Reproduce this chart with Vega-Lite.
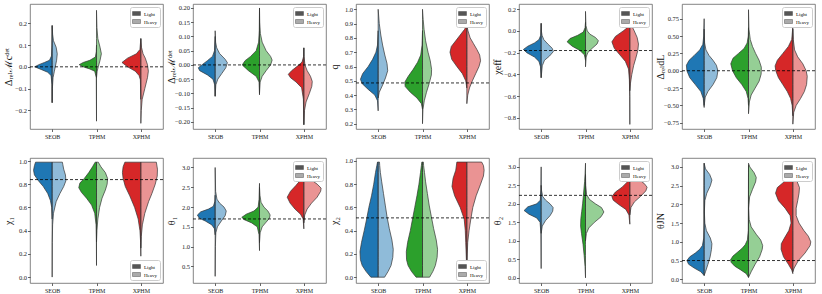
{
"$schema":"https://vega.github.io/schema/vega-lite/v6.json",
"padding":{"left":2,"top":3,"right":0,"bottom":0},
"columns":5,
"spacing":{"row":17,"column":1},
"data":{"values":[
{"p":1,"m":"SEOB","s":"Light","y":-0.165,"w":0},{"p":1,"m":"SEOB","s":"Light","y":-0.08,"w":-0.01},{"p":1,"m":"SEOB","s":"Light","y":-0.04,"w":-0.05},{"p":1,"m":"SEOB","s":"Light","y":-0.025,"w":-0.2},{"p":1,"m":"SEOB","s":"Light","y":-0.012,"w":-0.5},{"p":1,"m":"SEOB","s":"Light","y":0.0,"w":-0.79},{"p":1,"m":"SEOB","s":"Light","y":0.01,"w":-0.6},{"p":1,"m":"SEOB","s":"Light","y":0.02,"w":-0.35},{"p":1,"m":"SEOB","s":"Light","y":0.03,"w":-0.12},{"p":1,"m":"SEOB","s":"Light","y":0.05,"w":-0.03},{"p":1,"m":"SEOB","s":"Light","y":0.1,"w":-0.01},{"p":1,"m":"SEOB","s":"Light","y":0.19,"w":0},
{"p":1,"m":"SEOB","s":"Heavy","y":-0.165,"w":0},{"p":1,"m":"SEOB","s":"Heavy","y":-0.1,"w":0.01},{"p":1,"m":"SEOB","s":"Heavy","y":-0.05,"w":0.04},{"p":1,"m":"SEOB","s":"Heavy","y":-0.02,"w":0.1},{"p":1,"m":"SEOB","s":"Heavy","y":0.0,"w":0.14},{"p":1,"m":"SEOB","s":"Heavy","y":0.03,"w":0.2},{"p":1,"m":"SEOB","s":"Heavy","y":0.06,"w":0.23},{"p":1,"m":"SEOB","s":"Heavy","y":0.09,"w":0.18},{"p":1,"m":"SEOB","s":"Heavy","y":0.12,"w":0.06},{"p":1,"m":"SEOB","s":"Heavy","y":0.15,"w":0.02},{"p":1,"m":"SEOB","s":"Heavy","y":0.19,"w":0},
{"p":1,"m":"TPHM","s":"Light","y":-0.25,"w":0},{"p":1,"m":"TPHM","s":"Light","y":-0.05,"w":-0.01},{"p":1,"m":"TPHM","s":"Light","y":-0.02,"w":-0.08},{"p":1,"m":"TPHM","s":"Light","y":-0.01,"w":-0.3},{"p":1,"m":"TPHM","s":"Light","y":0.0,"w":-0.6},{"p":1,"m":"TPHM","s":"Light","y":0.01,"w":-0.78},{"p":1,"m":"TPHM","s":"Light","y":0.02,"w":-0.6},{"p":1,"m":"TPHM","s":"Light","y":0.03,"w":-0.3},{"p":1,"m":"TPHM","s":"Light","y":0.045,"w":-0.05},{"p":1,"m":"TPHM","s":"Light","y":0.07,"w":-0.01},{"p":1,"m":"TPHM","s":"Light","y":0.1,"w":0},
{"p":1,"m":"TPHM","s":"Heavy","y":-0.05,"w":0},{"p":1,"m":"TPHM","s":"Heavy","y":-0.02,"w":0.03},{"p":1,"m":"TPHM","s":"Heavy","y":0.0,"w":0.08},{"p":1,"m":"TPHM","s":"Heavy","y":0.03,"w":0.16},{"p":1,"m":"TPHM","s":"Heavy","y":0.06,"w":0.22},{"p":1,"m":"TPHM","s":"Heavy","y":0.09,"w":0.16},{"p":1,"m":"TPHM","s":"Heavy","y":0.13,"w":0.06},{"p":1,"m":"TPHM","s":"Heavy","y":0.18,"w":0.02},{"p":1,"m":"TPHM","s":"Heavy","y":0.26,"w":0},
{"p":1,"m":"XPHM","s":"Light","y":-0.15,"w":0},{"p":1,"m":"XPHM","s":"Light","y":-0.06,"w":-0.02},{"p":1,"m":"XPHM","s":"Light","y":-0.04,"w":-0.08},{"p":1,"m":"XPHM","s":"Light","y":-0.02,"w":-0.25},{"p":1,"m":"XPHM","s":"Light","y":0.0,"w":-0.6},{"p":1,"m":"XPHM","s":"Light","y":0.02,"w":-0.85},{"p":1,"m":"XPHM","s":"Light","y":0.04,"w":-0.6},{"p":1,"m":"XPHM","s":"Light","y":0.06,"w":-0.2},{"p":1,"m":"XPHM","s":"Light","y":0.08,"w":-0.04},{"p":1,"m":"XPHM","s":"Light","y":0.13,"w":0},
{"p":1,"m":"XPHM","s":"Heavy","y":-0.26,"w":0},{"p":1,"m":"XPHM","s":"Heavy","y":-0.2,"w":0.02},{"p":1,"m":"XPHM","s":"Heavy","y":-0.15,"w":0.06},{"p":1,"m":"XPHM","s":"Heavy","y":-0.1,"w":0.18},{"p":1,"m":"XPHM","s":"Heavy","y":-0.05,"w":0.3},{"p":1,"m":"XPHM","s":"Heavy","y":-0.02,"w":0.34},{"p":1,"m":"XPHM","s":"Heavy","y":0.01,"w":0.3},{"p":1,"m":"XPHM","s":"Heavy","y":0.04,"w":0.2},{"p":1,"m":"XPHM","s":"Heavy","y":0.06,"w":0.1},{"p":1,"m":"XPHM","s":"Heavy","y":0.09,"w":0.03},{"p":1,"m":"XPHM","s":"Heavy","y":0.13,"w":0},

{"p":2,"m":"SEOB","s":"Light","y":-0.11,"w":0},{"p":2,"m":"SEOB","s":"Light","y":-0.07,"w":-0.02},{"p":2,"m":"SEOB","s":"Light","y":-0.05,"w":-0.1},{"p":2,"m":"SEOB","s":"Light","y":-0.035,"w":-0.35},{"p":2,"m":"SEOB","s":"Light","y":-0.02,"w":-0.7},{"p":2,"m":"SEOB","s":"Light","y":-0.01,"w":-0.76},{"p":2,"m":"SEOB","s":"Light","y":0.0,"w":-0.6},{"p":2,"m":"SEOB","s":"Light","y":0.015,"w":-0.35},{"p":2,"m":"SEOB","s":"Light","y":0.03,"w":-0.12},{"p":2,"m":"SEOB","s":"Light","y":0.05,"w":-0.03},{"p":2,"m":"SEOB","s":"Light","y":0.1,"w":0},
{"p":2,"m":"SEOB","s":"Heavy","y":-0.11,"w":0},{"p":2,"m":"SEOB","s":"Heavy","y":-0.07,"w":0.03},{"p":2,"m":"SEOB","s":"Heavy","y":-0.05,"w":0.12},{"p":2,"m":"SEOB","s":"Heavy","y":-0.03,"w":0.3},{"p":2,"m":"SEOB","s":"Heavy","y":-0.01,"w":0.48},{"p":2,"m":"SEOB","s":"Heavy","y":0.008,"w":0.55},{"p":2,"m":"SEOB","s":"Heavy","y":0.02,"w":0.45},{"p":2,"m":"SEOB","s":"Heavy","y":0.04,"w":0.2},{"p":2,"m":"SEOB","s":"Heavy","y":0.06,"w":0.07},{"p":2,"m":"SEOB","s":"Heavy","y":0.08,"w":0.02},{"p":2,"m":"SEOB","s":"Heavy","y":0.12,"w":0},
{"p":2,"m":"TPHM","s":"Light","y":-0.105,"w":0},{"p":2,"m":"TPHM","s":"Light","y":-0.06,"w":-0.02},{"p":2,"m":"TPHM","s":"Light","y":-0.04,"w":-0.15},{"p":2,"m":"TPHM","s":"Light","y":-0.02,"w":-0.5},{"p":2,"m":"TPHM","s":"Light","y":0.0,"w":-0.78},{"p":2,"m":"TPHM","s":"Light","y":0.015,"w":-0.65},{"p":2,"m":"TPHM","s":"Light","y":0.03,"w":-0.4},{"p":2,"m":"TPHM","s":"Light","y":0.05,"w":-0.15},{"p":2,"m":"TPHM","s":"Light","y":0.08,"w":-0.04},{"p":2,"m":"TPHM","s":"Light","y":0.12,"w":-0.01},{"p":2,"m":"TPHM","s":"Light","y":0.2,"w":0},
{"p":2,"m":"TPHM","s":"Heavy","y":-0.1,"w":0},{"p":2,"m":"TPHM","s":"Heavy","y":-0.06,"w":0.03},{"p":2,"m":"TPHM","s":"Heavy","y":-0.04,"w":0.12},{"p":2,"m":"TPHM","s":"Heavy","y":-0.02,"w":0.3},{"p":2,"m":"TPHM","s":"Heavy","y":0.0,"w":0.5},{"p":2,"m":"TPHM","s":"Heavy","y":0.017,"w":0.57},{"p":2,"m":"TPHM","s":"Heavy","y":0.03,"w":0.5},{"p":2,"m":"TPHM","s":"Heavy","y":0.05,"w":0.3},{"p":2,"m":"TPHM","s":"Heavy","y":0.08,"w":0.12},{"p":2,"m":"TPHM","s":"Heavy","y":0.11,"w":0.04},{"p":2,"m":"TPHM","s":"Heavy","y":0.15,"w":0.01},{"p":2,"m":"TPHM","s":"Heavy","y":0.2,"w":0},
{"p":2,"m":"XPHM","s":"Light","y":-0.21,"w":0},{"p":2,"m":"XPHM","s":"Light","y":-0.12,"w":-0.02},{"p":2,"m":"XPHM","s":"Light","y":-0.08,"w":-0.1},{"p":2,"m":"XPHM","s":"Light","y":-0.06,"w":-0.35},{"p":2,"m":"XPHM","s":"Light","y":-0.045,"w":-0.6},{"p":2,"m":"XPHM","s":"Light","y":-0.033,"w":-0.7},{"p":2,"m":"XPHM","s":"Light","y":-0.02,"w":-0.55},{"p":2,"m":"XPHM","s":"Light","y":-0.005,"w":-0.3},{"p":2,"m":"XPHM","s":"Light","y":0.01,"w":-0.08},{"p":2,"m":"XPHM","s":"Light","y":0.03,"w":-0.01},{"p":2,"m":"XPHM","s":"Light","y":0.06,"w":0},
{"p":2,"m":"XPHM","s":"Heavy","y":-0.21,"w":0},{"p":2,"m":"XPHM","s":"Heavy","y":-0.16,"w":0.03},{"p":2,"m":"XPHM","s":"Heavy","y":-0.13,"w":0.1},{"p":2,"m":"XPHM","s":"Heavy","y":-0.1,"w":0.25},{"p":2,"m":"XPHM","s":"Heavy","y":-0.075,"w":0.36},{"p":2,"m":"XPHM","s":"Heavy","y":-0.058,"w":0.38},{"p":2,"m":"XPHM","s":"Heavy","y":-0.04,"w":0.3},{"p":2,"m":"XPHM","s":"Heavy","y":-0.02,"w":0.15},{"p":2,"m":"XPHM","s":"Heavy","y":0.0,"w":0.05},{"p":2,"m":"XPHM","s":"Heavy","y":0.03,"w":0.01},{"p":2,"m":"XPHM","s":"Heavy","y":0.06,"w":0},

{"p":3,"m":"SEOB","s":"Light","y":0.29,"w":0},{"p":3,"m":"SEOB","s":"Light","y":0.36,"w":-0.03},{"p":3,"m":"SEOB","s":"Light","y":0.4,"w":-0.15},{"p":3,"m":"SEOB","s":"Light","y":0.44,"w":-0.45},{"p":3,"m":"SEOB","s":"Light","y":0.48,"w":-0.72},{"p":3,"m":"SEOB","s":"Light","y":0.51,"w":-0.8},{"p":3,"m":"SEOB","s":"Light","y":0.55,"w":-0.7},{"p":3,"m":"SEOB","s":"Light","y":0.6,"w":-0.45},{"p":3,"m":"SEOB","s":"Light","y":0.65,"w":-0.25},{"p":3,"m":"SEOB","s":"Light","y":0.7,"w":-0.1},{"p":3,"m":"SEOB","s":"Light","y":0.75,"w":-0.03},{"p":3,"m":"SEOB","s":"Light","y":0.85,"w":0},
{"p":3,"m":"SEOB","s":"Heavy","y":0.38,"w":0},{"p":3,"m":"SEOB","s":"Heavy","y":0.42,"w":0.05},{"p":3,"m":"SEOB","s":"Heavy","y":0.47,"w":0.2},{"p":3,"m":"SEOB","s":"Heavy","y":0.52,"w":0.33},{"p":3,"m":"SEOB","s":"Heavy","y":0.57,"w":0.43},{"p":3,"m":"SEOB","s":"Heavy","y":0.62,"w":0.4},{"p":3,"m":"SEOB","s":"Heavy","y":0.68,"w":0.3},{"p":3,"m":"SEOB","s":"Heavy","y":0.75,"w":0.2},{"p":3,"m":"SEOB","s":"Heavy","y":0.82,"w":0.12},{"p":3,"m":"SEOB","s":"Heavy","y":0.9,"w":0.05},{"p":3,"m":"SEOB","s":"Heavy","y":1.0,"w":0},
{"p":3,"m":"TPHM","s":"Light","y":0.3,"w":0},{"p":3,"m":"TPHM","s":"Light","y":0.34,"w":-0.05},{"p":3,"m":"TPHM","s":"Light","y":0.38,"w":-0.25},{"p":3,"m":"TPHM","s":"Light","y":0.42,"w":-0.55},{"p":3,"m":"TPHM","s":"Light","y":0.46,"w":-0.78},{"p":3,"m":"TPHM","s":"Light","y":0.49,"w":-0.8},{"p":3,"m":"TPHM","s":"Light","y":0.53,"w":-0.65},{"p":3,"m":"TPHM","s":"Light","y":0.58,"w":-0.42},{"p":3,"m":"TPHM","s":"Light","y":0.63,"w":-0.22},{"p":3,"m":"TPHM","s":"Light","y":0.68,"w":-0.08},{"p":3,"m":"TPHM","s":"Light","y":0.75,"w":-0.02},{"p":3,"m":"TPHM","s":"Light","y":0.85,"w":0},
{"p":3,"m":"TPHM","s":"Heavy","y":0.2,"w":0},{"p":3,"m":"TPHM","s":"Heavy","y":0.3,"w":0.02},{"p":3,"m":"TPHM","s":"Heavy","y":0.36,"w":0.08},{"p":3,"m":"TPHM","s":"Heavy","y":0.42,"w":0.18},{"p":3,"m":"TPHM","s":"Heavy","y":0.48,"w":0.3},{"p":3,"m":"TPHM","s":"Heavy","y":0.54,"w":0.4},{"p":3,"m":"TPHM","s":"Heavy","y":0.58,"w":0.41},{"p":3,"m":"TPHM","s":"Heavy","y":0.64,"w":0.35},{"p":3,"m":"TPHM","s":"Heavy","y":0.7,"w":0.25},{"p":3,"m":"TPHM","s":"Heavy","y":0.78,"w":0.14},{"p":3,"m":"TPHM","s":"Heavy","y":0.86,"w":0.07},{"p":3,"m":"TPHM","s":"Heavy","y":0.93,"w":0.03},{"p":3,"m":"TPHM","s":"Heavy","y":1.0,"w":0},
{"p":3,"m":"XPHM","s":"Light","y":0.45,"w":0},{"p":3,"m":"XPHM","s":"Light","y":0.5,"w":-0.05},{"p":3,"m":"XPHM","s":"Light","y":0.55,"w":-0.2},{"p":3,"m":"XPHM","s":"Light","y":0.6,"w":-0.45},{"p":3,"m":"XPHM","s":"Light","y":0.65,"w":-0.68},{"p":3,"m":"XPHM","s":"Light","y":0.7,"w":-0.76},{"p":3,"m":"XPHM","s":"Light","y":0.74,"w":-0.7},{"p":3,"m":"XPHM","s":"Light","y":0.78,"w":-0.5},{"p":3,"m":"XPHM","s":"Light","y":0.82,"w":-0.3},{"p":3,"m":"XPHM","s":"Light","y":0.86,"w":-0.1},{"p":3,"m":"XPHM","s":"Light","y":0.89,"w":0},
{"p":3,"m":"XPHM","s":"Heavy","y":0.34,"w":0},{"p":3,"m":"XPHM","s":"Heavy","y":0.4,"w":0.04},{"p":3,"m":"XPHM","s":"Heavy","y":0.45,"w":0.12},{"p":3,"m":"XPHM","s":"Heavy","y":0.5,"w":0.25},{"p":3,"m":"XPHM","s":"Heavy","y":0.55,"w":0.4},{"p":3,"m":"XPHM","s":"Heavy","y":0.6,"w":0.55},{"p":3,"m":"XPHM","s":"Heavy","y":0.64,"w":0.62},{"p":3,"m":"XPHM","s":"Heavy","y":0.68,"w":0.58},{"p":3,"m":"XPHM","s":"Heavy","y":0.72,"w":0.45},{"p":3,"m":"XPHM","s":"Heavy","y":0.76,"w":0.3},{"p":3,"m":"XPHM","s":"Heavy","y":0.8,"w":0.15},{"p":3,"m":"XPHM","s":"Heavy","y":0.85,"w":0.05},{"p":3,"m":"XPHM","s":"Heavy","y":0.89,"w":0},

{"p":4,"m":"SEOB","s":"Light","y":-0.43,"w":0},{"p":4,"m":"SEOB","s":"Light","y":-0.33,"w":-0.03},{"p":4,"m":"SEOB","s":"Light","y":-0.28,"w":-0.1},{"p":4,"m":"SEOB","s":"Light","y":-0.24,"w":-0.3},{"p":4,"m":"SEOB","s":"Light","y":-0.2,"w":-0.65},{"p":4,"m":"SEOB","s":"Light","y":-0.17,"w":-0.8},{"p":4,"m":"SEOB","s":"Light","y":-0.14,"w":-0.6},{"p":4,"m":"SEOB","s":"Light","y":-0.11,"w":-0.3},{"p":4,"m":"SEOB","s":"Light","y":-0.08,"w":-0.1},{"p":4,"m":"SEOB","s":"Light","y":-0.04,"w":-0.02},{"p":4,"m":"SEOB","s":"Light","y":0.07,"w":0},
{"p":4,"m":"SEOB","s":"Heavy","y":-0.43,"w":0},{"p":4,"m":"SEOB","s":"Heavy","y":-0.32,"w":0.05},{"p":4,"m":"SEOB","s":"Heavy","y":-0.27,"w":0.15},{"p":4,"m":"SEOB","s":"Heavy","y":-0.23,"w":0.38},{"p":4,"m":"SEOB","s":"Heavy","y":-0.19,"w":0.55},{"p":4,"m":"SEOB","s":"Heavy","y":-0.16,"w":0.5},{"p":4,"m":"SEOB","s":"Heavy","y":-0.12,"w":0.3},{"p":4,"m":"SEOB","s":"Heavy","y":-0.08,"w":0.12},{"p":4,"m":"SEOB","s":"Heavy","y":-0.04,"w":0.04},{"p":4,"m":"SEOB","s":"Heavy","y":0.0,"w":0.01},{"p":4,"m":"SEOB","s":"Heavy","y":0.07,"w":0},
{"p":4,"m":"TPHM","s":"Light","y":-0.27,"w":0},{"p":4,"m":"TPHM","s":"Light","y":-0.22,"w":-0.05},{"p":4,"m":"TPHM","s":"Light","y":-0.18,"w":-0.25},{"p":4,"m":"TPHM","s":"Light","y":-0.14,"w":-0.6},{"p":4,"m":"TPHM","s":"Light","y":-0.1,"w":-0.83},{"p":4,"m":"TPHM","s":"Light","y":-0.07,"w":-0.7},{"p":4,"m":"TPHM","s":"Light","y":-0.04,"w":-0.35},{"p":4,"m":"TPHM","s":"Light","y":-0.01,"w":-0.1},{"p":4,"m":"TPHM","s":"Light","y":0.03,"w":-0.02},{"p":4,"m":"TPHM","s":"Light","y":0.08,"w":0},
{"p":4,"m":"TPHM","s":"Heavy","y":-0.33,"w":0},{"p":4,"m":"TPHM","s":"Heavy","y":-0.24,"w":0.03},{"p":4,"m":"TPHM","s":"Heavy","y":-0.2,"w":0.1},{"p":4,"m":"TPHM","s":"Heavy","y":-0.16,"w":0.3},{"p":4,"m":"TPHM","s":"Heavy","y":-0.12,"w":0.52},{"p":4,"m":"TPHM","s":"Heavy","y":-0.09,"w":0.58},{"p":4,"m":"TPHM","s":"Heavy","y":-0.06,"w":0.45},{"p":4,"m":"TPHM","s":"Heavy","y":-0.03,"w":0.2},{"p":4,"m":"TPHM","s":"Heavy","y":0.0,"w":0.08},{"p":4,"m":"TPHM","s":"Heavy","y":0.05,"w":0.02},{"p":4,"m":"TPHM","s":"Heavy","y":0.18,"w":0},
{"p":4,"m":"XPHM","s":"Light","y":-0.86,"w":0},{"p":4,"m":"XPHM","s":"Light","y":-0.6,"w":-0.005},{"p":4,"m":"XPHM","s":"Light","y":-0.45,"w":-0.02},{"p":4,"m":"XPHM","s":"Light","y":-0.35,"w":-0.06},{"p":4,"m":"XPHM","s":"Light","y":-0.28,"w":-0.2},{"p":4,"m":"XPHM","s":"Light","y":-0.22,"w":-0.45},{"p":4,"m":"XPHM","s":"Light","y":-0.16,"w":-0.7},{"p":4,"m":"XPHM","s":"Light","y":-0.1,"w":-0.81},{"p":4,"m":"XPHM","s":"Light","y":-0.05,"w":-0.65},{"p":4,"m":"XPHM","s":"Light","y":0.0,"w":-0.3},{"p":4,"m":"XPHM","s":"Light","y":0.04,"w":-0.05},{"p":4,"m":"XPHM","s":"Light","y":0.08,"w":0},
{"p":4,"m":"XPHM","s":"Heavy","y":-0.55,"w":0},{"p":4,"m":"XPHM","s":"Heavy","y":-0.48,"w":0.03},{"p":4,"m":"XPHM","s":"Heavy","y":-0.4,"w":0.09},{"p":4,"m":"XPHM","s":"Heavy","y":-0.32,"w":0.17},{"p":4,"m":"XPHM","s":"Heavy","y":-0.25,"w":0.27},{"p":4,"m":"XPHM","s":"Heavy","y":-0.18,"w":0.36},{"p":4,"m":"XPHM","s":"Heavy","y":-0.12,"w":0.39},{"p":4,"m":"XPHM","s":"Heavy","y":-0.06,"w":0.33},{"p":4,"m":"XPHM","s":"Heavy","y":0.0,"w":0.2},{"p":4,"m":"XPHM","s":"Heavy","y":0.05,"w":0.08},{"p":4,"m":"XPHM","s":"Heavy","y":0.1,"w":0.02},{"p":4,"m":"XPHM","s":"Heavy","y":0.13,"w":0},

{"p":5,"m":"SEOB","s":"Light","y":-0.53,"w":0},{"p":5,"m":"SEOB","s":"Light","y":-0.4,"w":-0.04},{"p":5,"m":"SEOB","s":"Light","y":-0.3,"w":-0.15},{"p":5,"m":"SEOB","s":"Light","y":-0.2,"w":-0.4},{"p":5,"m":"SEOB","s":"Light","y":-0.1,"w":-0.65},{"p":5,"m":"SEOB","s":"Light","y":0.0,"w":-0.78},{"p":5,"m":"SEOB","s":"Light","y":0.08,"w":-0.8},{"p":5,"m":"SEOB","s":"Light","y":0.15,"w":-0.68},{"p":5,"m":"SEOB","s":"Light","y":0.22,"w":-0.45},{"p":5,"m":"SEOB","s":"Light","y":0.3,"w":-0.2},{"p":5,"m":"SEOB","s":"Light","y":0.38,"w":-0.06},{"p":5,"m":"SEOB","s":"Light","y":0.5,"w":-0.02},{"p":5,"m":"SEOB","s":"Light","y":0.75,"w":0},
{"p":5,"m":"SEOB","s":"Heavy","y":-0.5,"w":0},{"p":5,"m":"SEOB","s":"Heavy","y":-0.38,"w":0.05},{"p":5,"m":"SEOB","s":"Heavy","y":-0.3,"w":0.17},{"p":5,"m":"SEOB","s":"Heavy","y":-0.2,"w":0.4},{"p":5,"m":"SEOB","s":"Heavy","y":-0.1,"w":0.57},{"p":5,"m":"SEOB","s":"Heavy","y":0.0,"w":0.62},{"p":5,"m":"SEOB","s":"Heavy","y":0.08,"w":0.55},{"p":5,"m":"SEOB","s":"Heavy","y":0.15,"w":0.4},{"p":5,"m":"SEOB","s":"Heavy","y":0.22,"w":0.22},{"p":5,"m":"SEOB","s":"Heavy","y":0.3,"w":0.08},{"p":5,"m":"SEOB","s":"Heavy","y":0.4,"w":0.02},{"p":5,"m":"SEOB","s":"Heavy","y":0.6,"w":0},
{"p":5,"m":"TPHM","s":"Light","y":-0.5,"w":0},{"p":5,"m":"TPHM","s":"Light","y":-0.4,"w":-0.02},{"p":5,"m":"TPHM","s":"Light","y":-0.3,"w":-0.1},{"p":5,"m":"TPHM","s":"Light","y":-0.2,"w":-0.3},{"p":5,"m":"TPHM","s":"Light","y":-0.1,"w":-0.55},{"p":5,"m":"TPHM","s":"Light","y":0.0,"w":-0.72},{"p":5,"m":"TPHM","s":"Light","y":0.1,"w":-0.8},{"p":5,"m":"TPHM","s":"Light","y":0.18,"w":-0.7},{"p":5,"m":"TPHM","s":"Light","y":0.25,"w":-0.45},{"p":5,"m":"TPHM","s":"Light","y":0.32,"w":-0.2},{"p":5,"m":"TPHM","s":"Light","y":0.4,"w":-0.06},{"p":5,"m":"TPHM","s":"Light","y":0.5,"w":-0.01},{"p":5,"m":"TPHM","s":"Light","y":0.62,"w":0},
{"p":5,"m":"TPHM","s":"Heavy","y":-0.62,"w":0},{"p":5,"m":"TPHM","s":"Heavy","y":-0.45,"w":0.04},{"p":5,"m":"TPHM","s":"Heavy","y":-0.35,"w":0.12},{"p":5,"m":"TPHM","s":"Heavy","y":-0.25,"w":0.3},{"p":5,"m":"TPHM","s":"Heavy","y":-0.15,"w":0.48},{"p":5,"m":"TPHM","s":"Heavy","y":-0.05,"w":0.57},{"p":5,"m":"TPHM","s":"Heavy","y":0.05,"w":0.58},{"p":5,"m":"TPHM","s":"Heavy","y":0.15,"w":0.48},{"p":5,"m":"TPHM","s":"Heavy","y":0.25,"w":0.32},{"p":5,"m":"TPHM","s":"Heavy","y":0.35,"w":0.18},{"p":5,"m":"TPHM","s":"Heavy","y":0.45,"w":0.08},{"p":5,"m":"TPHM","s":"Heavy","y":0.6,"w":0.02},{"p":5,"m":"TPHM","s":"Heavy","y":0.88,"w":0},
{"p":5,"m":"XPHM","s":"Light","y":-0.65,"w":0},{"p":5,"m":"XPHM","s":"Light","y":-0.5,"w":-0.03},{"p":5,"m":"XPHM","s":"Light","y":-0.4,"w":-0.1},{"p":5,"m":"XPHM","s":"Light","y":-0.3,"w":-0.25},{"p":5,"m":"XPHM","s":"Light","y":-0.2,"w":-0.45},{"p":5,"m":"XPHM","s":"Light","y":-0.1,"w":-0.65},{"p":5,"m":"XPHM","s":"Light","y":0.0,"w":-0.77},{"p":5,"m":"XPHM","s":"Light","y":0.07,"w":-0.8},{"p":5,"m":"XPHM","s":"Light","y":0.15,"w":-0.7},{"p":5,"m":"XPHM","s":"Light","y":0.25,"w":-0.45},{"p":5,"m":"XPHM","s":"Light","y":0.35,"w":-0.2},{"p":5,"m":"XPHM","s":"Light","y":0.45,"w":-0.05},{"p":5,"m":"XPHM","s":"Light","y":0.6,"w":-0.01},{"p":5,"m":"XPHM","s":"Light","y":0.72,"w":0},
{"p":5,"m":"XPHM","s":"Heavy","y":-0.77,"w":0},{"p":5,"m":"XPHM","s":"Heavy","y":-0.6,"w":0.04},{"p":5,"m":"XPHM","s":"Heavy","y":-0.5,"w":0.15},{"p":5,"m":"XPHM","s":"Heavy","y":-0.4,"w":0.35},{"p":5,"m":"XPHM","s":"Heavy","y":-0.3,"w":0.52},{"p":5,"m":"XPHM","s":"Heavy","y":-0.2,"w":0.62},{"p":5,"m":"XPHM","s":"Heavy","y":-0.08,"w":0.65},{"p":5,"m":"XPHM","s":"Heavy","y":0.0,"w":0.6},{"p":5,"m":"XPHM","s":"Heavy","y":0.1,"w":0.45},{"p":5,"m":"XPHM","s":"Heavy","y":0.2,"w":0.22},{"p":5,"m":"XPHM","s":"Heavy","y":0.3,"w":0.08},{"p":5,"m":"XPHM","s":"Heavy","y":0.45,"w":0.02},{"p":5,"m":"XPHM","s":"Heavy","y":0.6,"w":0},

{"p":6,"m":"SEOB","s":"Light","y":0.5,"w":0},{"p":6,"m":"SEOB","s":"Light","y":0.6,"w":-0.02},{"p":6,"m":"SEOB","s":"Light","y":0.66,"w":-0.08},{"p":6,"m":"SEOB","s":"Light","y":0.72,"w":-0.2},{"p":6,"m":"SEOB","s":"Light","y":0.78,"w":-0.4},{"p":6,"m":"SEOB","s":"Light","y":0.83,"w":-0.62},{"p":6,"m":"SEOB","s":"Light","y":0.88,"w":-0.8},{"p":6,"m":"SEOB","s":"Light","y":0.92,"w":-0.84},{"p":6,"m":"SEOB","s":"Light","y":0.96,"w":-0.8},{"p":6,"m":"SEOB","s":"Light","y":0.99,"w":-0.75},
{"p":6,"m":"SEOB","s":"Heavy","y":0.0,"w":0},{"p":6,"m":"SEOB","s":"Heavy","y":0.3,"w":0.005},{"p":6,"m":"SEOB","s":"Heavy","y":0.45,"w":0.02},{"p":6,"m":"SEOB","s":"Heavy","y":0.55,"w":0.06},{"p":6,"m":"SEOB","s":"Heavy","y":0.65,"w":0.18},{"p":6,"m":"SEOB","s":"Heavy","y":0.72,"w":0.35},{"p":6,"m":"SEOB","s":"Heavy","y":0.78,"w":0.52},{"p":6,"m":"SEOB","s":"Heavy","y":0.83,"w":0.62},{"p":6,"m":"SEOB","s":"Heavy","y":0.88,"w":0.6},{"p":6,"m":"SEOB","s":"Heavy","y":0.93,"w":0.52},{"p":6,"m":"SEOB","s":"Heavy","y":0.97,"w":0.48},{"p":6,"m":"SEOB","s":"Heavy","y":0.99,"w":0.46},
{"p":6,"m":"TPHM","s":"Light","y":0.1,"w":0},{"p":6,"m":"TPHM","s":"Light","y":0.3,"w":-0.005},{"p":6,"m":"TPHM","s":"Light","y":0.45,"w":-0.02},{"p":6,"m":"TPHM","s":"Light","y":0.55,"w":-0.08},{"p":6,"m":"TPHM","s":"Light","y":0.62,"w":-0.22},{"p":6,"m":"TPHM","s":"Light","y":0.68,"w":-0.45},{"p":6,"m":"TPHM","s":"Light","y":0.73,"w":-0.68},{"p":6,"m":"TPHM","s":"Light","y":0.77,"w":-0.8},{"p":6,"m":"TPHM","s":"Light","y":0.81,"w":-0.75},{"p":6,"m":"TPHM","s":"Light","y":0.85,"w":-0.55},{"p":6,"m":"TPHM","s":"Light","y":0.9,"w":-0.35},{"p":6,"m":"TPHM","s":"Light","y":0.95,"w":-0.18},{"p":6,"m":"TPHM","s":"Light","y":0.99,"w":-0.06},
{"p":6,"m":"TPHM","s":"Heavy","y":0.3,"w":0},{"p":6,"m":"TPHM","s":"Heavy","y":0.4,"w":0.02},{"p":6,"m":"TPHM","s":"Heavy","y":0.5,"w":0.06},{"p":6,"m":"TPHM","s":"Heavy","y":0.6,"w":0.14},{"p":6,"m":"TPHM","s":"Heavy","y":0.68,"w":0.25},{"p":6,"m":"TPHM","s":"Heavy","y":0.75,"w":0.4},{"p":6,"m":"TPHM","s":"Heavy","y":0.8,"w":0.48},{"p":6,"m":"TPHM","s":"Heavy","y":0.85,"w":0.5},{"p":6,"m":"TPHM","s":"Heavy","y":0.9,"w":0.4},{"p":6,"m":"TPHM","s":"Heavy","y":0.95,"w":0.2},{"p":6,"m":"TPHM","s":"Heavy","y":0.99,"w":0.08},
{"p":6,"m":"XPHM","s":"Light","y":0.18,"w":0},{"p":6,"m":"XPHM","s":"Light","y":0.3,"w":-0.01},{"p":6,"m":"XPHM","s":"Light","y":0.4,"w":-0.04},{"p":6,"m":"XPHM","s":"Light","y":0.5,"w":-0.12},{"p":6,"m":"XPHM","s":"Light","y":0.6,"w":-0.28},{"p":6,"m":"XPHM","s":"Light","y":0.7,"w":-0.5},{"p":6,"m":"XPHM","s":"Light","y":0.78,"w":-0.7},{"p":6,"m":"XPHM","s":"Light","y":0.85,"w":-0.8},{"p":6,"m":"XPHM","s":"Light","y":0.9,"w":-0.83},{"p":6,"m":"XPHM","s":"Light","y":0.95,"w":-0.8},{"p":6,"m":"XPHM","s":"Light","y":0.99,"w":-0.72},
{"p":6,"m":"XPHM","s":"Heavy","y":0.25,"w":0},{"p":6,"m":"XPHM","s":"Heavy","y":0.35,"w":0.02},{"p":6,"m":"XPHM","s":"Heavy","y":0.45,"w":0.07},{"p":6,"m":"XPHM","s":"Heavy","y":0.55,"w":0.18},{"p":6,"m":"XPHM","s":"Heavy","y":0.65,"w":0.35},{"p":6,"m":"XPHM","s":"Heavy","y":0.72,"w":0.5},{"p":6,"m":"XPHM","s":"Heavy","y":0.8,"w":0.65},{"p":6,"m":"XPHM","s":"Heavy","y":0.87,"w":0.74},{"p":6,"m":"XPHM","s":"Heavy","y":0.93,"w":0.75},{"p":6,"m":"XPHM","s":"Heavy","y":0.99,"w":0.7},

{"p":7,"m":"SEOB","s":"Light","y":1.3,"w":0},{"p":7,"m":"SEOB","s":"Light","y":1.45,"w":-0.03},{"p":7,"m":"SEOB","s":"Light","y":1.55,"w":-0.15},{"p":7,"m":"SEOB","s":"Light","y":1.65,"w":-0.45},{"p":7,"m":"SEOB","s":"Light","y":1.72,"w":-0.72},{"p":7,"m":"SEOB","s":"Light","y":1.8,"w":-0.8},{"p":7,"m":"SEOB","s":"Light","y":1.88,"w":-0.65},{"p":7,"m":"SEOB","s":"Light","y":1.95,"w":-0.3},{"p":7,"m":"SEOB","s":"Light","y":2.02,"w":-0.08},{"p":7,"m":"SEOB","s":"Light","y":2.15,"w":-0.01},{"p":7,"m":"SEOB","s":"Light","y":2.3,"w":0},
{"p":7,"m":"SEOB","s":"Heavy","y":0.25,"w":0},{"p":7,"m":"SEOB","s":"Heavy","y":1.0,"w":0.01},{"p":7,"m":"SEOB","s":"Heavy","y":1.35,"w":0.03},{"p":7,"m":"SEOB","s":"Heavy","y":1.5,"w":0.1},{"p":7,"m":"SEOB","s":"Heavy","y":1.65,"w":0.28},{"p":7,"m":"SEOB","s":"Heavy","y":1.78,"w":0.45},{"p":7,"m":"SEOB","s":"Heavy","y":1.9,"w":0.5},{"p":7,"m":"SEOB","s":"Heavy","y":2.0,"w":0.4},{"p":7,"m":"SEOB","s":"Heavy","y":2.1,"w":0.2},{"p":7,"m":"SEOB","s":"Heavy","y":2.2,"w":0.08},{"p":7,"m":"SEOB","s":"Heavy","y":2.4,"w":0.02},{"p":7,"m":"SEOB","s":"Heavy","y":3.0,"w":0},
{"p":7,"m":"TPHM","s":"Light","y":0.9,"w":0},{"p":7,"m":"TPHM","s":"Light","y":1.3,"w":-0.02},{"p":7,"m":"TPHM","s":"Light","y":1.5,"w":-0.1},{"p":7,"m":"TPHM","s":"Light","y":1.6,"w":-0.35},{"p":7,"m":"TPHM","s":"Light","y":1.68,"w":-0.68},{"p":7,"m":"TPHM","s":"Light","y":1.74,"w":-0.8},{"p":7,"m":"TPHM","s":"Light","y":1.82,"w":-0.6},{"p":7,"m":"TPHM","s":"Light","y":1.9,"w":-0.25},{"p":7,"m":"TPHM","s":"Light","y":2.0,"w":-0.06},{"p":7,"m":"TPHM","s":"Light","y":2.2,"w":-0.02},{"p":7,"m":"TPHM","s":"Light","y":2.6,"w":0},
{"p":7,"m":"TPHM","s":"Heavy","y":1.1,"w":0},{"p":7,"m":"TPHM","s":"Heavy","y":1.35,"w":0.03},{"p":7,"m":"TPHM","s":"Heavy","y":1.5,"w":0.12},{"p":7,"m":"TPHM","s":"Heavy","y":1.62,"w":0.3},{"p":7,"m":"TPHM","s":"Heavy","y":1.72,"w":0.45},{"p":7,"m":"TPHM","s":"Heavy","y":1.8,"w":0.48},{"p":7,"m":"TPHM","s":"Heavy","y":1.9,"w":0.38},{"p":7,"m":"TPHM","s":"Heavy","y":2.0,"w":0.2},{"p":7,"m":"TPHM","s":"Heavy","y":2.12,"w":0.07},{"p":7,"m":"TPHM","s":"Heavy","y":2.3,"w":0.02},{"p":7,"m":"TPHM","s":"Heavy","y":2.5,"w":0},
{"p":7,"m":"XPHM","s":"Light","y":1.45,"w":0},{"p":7,"m":"XPHM","s":"Light","y":1.7,"w":-0.03},{"p":7,"m":"XPHM","s":"Light","y":1.82,"w":-0.15},{"p":7,"m":"XPHM","s":"Light","y":1.95,"w":-0.4},{"p":7,"m":"XPHM","s":"Light","y":2.1,"w":-0.62},{"p":7,"m":"XPHM","s":"Light","y":2.25,"w":-0.75},{"p":7,"m":"XPHM","s":"Light","y":2.4,"w":-0.6},{"p":7,"m":"XPHM","s":"Light","y":2.55,"w":-0.35},{"p":7,"m":"XPHM","s":"Light","y":2.7,"w":-0.12},{"p":7,"m":"XPHM","s":"Light","y":2.82,"w":-0.03},{"p":7,"m":"XPHM","s":"Light","y":2.95,"w":0},
{"p":7,"m":"XPHM","s":"Heavy","y":1.6,"w":0},{"p":7,"m":"XPHM","s":"Heavy","y":1.8,"w":0.04},{"p":7,"m":"XPHM","s":"Heavy","y":1.95,"w":0.15},{"p":7,"m":"XPHM","s":"Heavy","y":2.1,"w":0.35},{"p":7,"m":"XPHM","s":"Heavy","y":2.25,"w":0.6},{"p":7,"m":"XPHM","s":"Heavy","y":2.4,"w":0.76},{"p":7,"m":"XPHM","s":"Heavy","y":2.48,"w":0.78},{"p":7,"m":"XPHM","s":"Heavy","y":2.58,"w":0.6},{"p":7,"m":"XPHM","s":"Heavy","y":2.7,"w":0.3},{"p":7,"m":"XPHM","s":"Heavy","y":2.82,"w":0.1},{"p":7,"m":"XPHM","s":"Heavy","y":2.95,"w":0.02},{"p":7,"m":"XPHM","s":"Heavy","y":3.1,"w":0},

{"p":8,"m":"SEOB","s":"Light","y":0.0,"w":-0.33},{"p":8,"m":"SEOB","s":"Light","y":0.05,"w":-0.55},{"p":8,"m":"SEOB","s":"Light","y":0.1,"w":-0.72},{"p":8,"m":"SEOB","s":"Light","y":0.15,"w":-0.8},{"p":8,"m":"SEOB","s":"Light","y":0.22,"w":-0.82},{"p":8,"m":"SEOB","s":"Light","y":0.3,"w":-0.75},{"p":8,"m":"SEOB","s":"Light","y":0.4,"w":-0.63},{"p":8,"m":"SEOB","s":"Light","y":0.5,"w":-0.52},{"p":8,"m":"SEOB","s":"Light","y":0.6,"w":-0.42},{"p":8,"m":"SEOB","s":"Light","y":0.7,"w":-0.3},{"p":8,"m":"SEOB","s":"Light","y":0.8,"w":-0.2},{"p":8,"m":"SEOB","s":"Light","y":0.9,"w":-0.12},{"p":8,"m":"SEOB","s":"Light","y":0.96,"w":-0.06},{"p":8,"m":"SEOB","s":"Light","y":0.99,"w":-0.03},
{"p":8,"m":"SEOB","s":"Heavy","y":0.0,"w":0.29},{"p":8,"m":"SEOB","s":"Heavy","y":0.05,"w":0.45},{"p":8,"m":"SEOB","s":"Heavy","y":0.1,"w":0.58},{"p":8,"m":"SEOB","s":"Heavy","y":0.17,"w":0.66},{"p":8,"m":"SEOB","s":"Heavy","y":0.24,"w":0.68},{"p":8,"m":"SEOB","s":"Heavy","y":0.32,"w":0.62},{"p":8,"m":"SEOB","s":"Heavy","y":0.42,"w":0.5},{"p":8,"m":"SEOB","s":"Heavy","y":0.52,"w":0.4},{"p":8,"m":"SEOB","s":"Heavy","y":0.62,"w":0.32},{"p":8,"m":"SEOB","s":"Heavy","y":0.72,"w":0.24},{"p":8,"m":"SEOB","s":"Heavy","y":0.82,"w":0.16},{"p":8,"m":"SEOB","s":"Heavy","y":0.9,"w":0.1},{"p":8,"m":"SEOB","s":"Heavy","y":0.96,"w":0.07},{"p":8,"m":"SEOB","s":"Heavy","y":0.99,"w":0.06},
{"p":8,"m":"TPHM","s":"Light","y":0.0,"w":-0.29},{"p":8,"m":"TPHM","s":"Light","y":0.05,"w":-0.5},{"p":8,"m":"TPHM","s":"Light","y":0.1,"w":-0.65},{"p":8,"m":"TPHM","s":"Light","y":0.15,"w":-0.72},{"p":8,"m":"TPHM","s":"Light","y":0.22,"w":-0.73},{"p":8,"m":"TPHM","s":"Light","y":0.3,"w":-0.67},{"p":8,"m":"TPHM","s":"Light","y":0.4,"w":-0.55},{"p":8,"m":"TPHM","s":"Light","y":0.5,"w":-0.45},{"p":8,"m":"TPHM","s":"Light","y":0.6,"w":-0.35},{"p":8,"m":"TPHM","s":"Light","y":0.7,"w":-0.25},{"p":8,"m":"TPHM","s":"Light","y":0.8,"w":-0.16},{"p":8,"m":"TPHM","s":"Light","y":0.9,"w":-0.09},{"p":8,"m":"TPHM","s":"Light","y":0.96,"w":-0.05},{"p":8,"m":"TPHM","s":"Light","y":0.99,"w":-0.03},
{"p":8,"m":"TPHM","s":"Heavy","y":0.0,"w":0.32},{"p":8,"m":"TPHM","s":"Heavy","y":0.05,"w":0.47},{"p":8,"m":"TPHM","s":"Heavy","y":0.1,"w":0.58},{"p":8,"m":"TPHM","s":"Heavy","y":0.17,"w":0.66},{"p":8,"m":"TPHM","s":"Heavy","y":0.24,"w":0.68},{"p":8,"m":"TPHM","s":"Heavy","y":0.32,"w":0.62},{"p":8,"m":"TPHM","s":"Heavy","y":0.42,"w":0.5},{"p":8,"m":"TPHM","s":"Heavy","y":0.52,"w":0.4},{"p":8,"m":"TPHM","s":"Heavy","y":0.62,"w":0.3},{"p":8,"m":"TPHM","s":"Heavy","y":0.72,"w":0.22},{"p":8,"m":"TPHM","s":"Heavy","y":0.82,"w":0.14},{"p":8,"m":"TPHM","s":"Heavy","y":0.9,"w":0.09},{"p":8,"m":"TPHM","s":"Heavy","y":0.96,"w":0.05},{"p":8,"m":"TPHM","s":"Heavy","y":0.99,"w":0.04},
{"p":8,"m":"XPHM","s":"Light","y":0.08,"w":0},{"p":8,"m":"XPHM","s":"Light","y":0.15,"w":-0.02},{"p":8,"m":"XPHM","s":"Light","y":0.3,"w":-0.05},{"p":8,"m":"XPHM","s":"Light","y":0.4,"w":-0.07},{"p":8,"m":"XPHM","s":"Light","y":0.5,"w":-0.12},{"p":8,"m":"XPHM","s":"Light","y":0.6,"w":-0.3},{"p":8,"m":"XPHM","s":"Light","y":0.7,"w":-0.55},{"p":8,"m":"XPHM","s":"Light","y":0.78,"w":-0.67},{"p":8,"m":"XPHM","s":"Light","y":0.85,"w":-0.62},{"p":8,"m":"XPHM","s":"Light","y":0.92,"w":-0.5},{"p":8,"m":"XPHM","s":"Light","y":0.99,"w":-0.45},
{"p":8,"m":"XPHM","s":"Heavy","y":0.08,"w":0},{"p":8,"m":"XPHM","s":"Heavy","y":0.2,"w":0.02},{"p":8,"m":"XPHM","s":"Heavy","y":0.3,"w":0.04},{"p":8,"m":"XPHM","s":"Heavy","y":0.4,"w":0.1},{"p":8,"m":"XPHM","s":"Heavy","y":0.5,"w":0.18},{"p":8,"m":"XPHM","s":"Heavy","y":0.6,"w":0.27},{"p":8,"m":"XPHM","s":"Heavy","y":0.7,"w":0.42},{"p":8,"m":"XPHM","s":"Heavy","y":0.8,"w":0.62},{"p":8,"m":"XPHM","s":"Heavy","y":0.87,"w":0.75},{"p":8,"m":"XPHM","s":"Heavy","y":0.92,"w":0.78},{"p":8,"m":"XPHM","s":"Heavy","y":0.96,"w":0.75},{"p":8,"m":"XPHM","s":"Heavy","y":0.99,"w":0.67},

{"p":9,"m":"SEOB","s":"Light","y":0.25,"w":0},{"p":9,"m":"SEOB","s":"Light","y":1.2,"w":-0.01},{"p":9,"m":"SEOB","s":"Light","y":1.5,"w":-0.05},{"p":9,"m":"SEOB","s":"Light","y":1.62,"w":-0.2},{"p":9,"m":"SEOB","s":"Light","y":1.72,"w":-0.55},{"p":9,"m":"SEOB","s":"Light","y":1.82,"w":-0.77},{"p":9,"m":"SEOB","s":"Light","y":1.92,"w":-0.6},{"p":9,"m":"SEOB","s":"Light","y":2.0,"w":-0.2},{"p":9,"m":"SEOB","s":"Light","y":2.1,"w":-0.04},{"p":9,"m":"SEOB","s":"Light","y":2.4,"w":-0.01},{"p":9,"m":"SEOB","s":"Light","y":3.0,"w":0},
{"p":9,"m":"SEOB","s":"Heavy","y":1.2,"w":0},{"p":9,"m":"SEOB","s":"Heavy","y":1.4,"w":0.05},{"p":9,"m":"SEOB","s":"Heavy","y":1.55,"w":0.2},{"p":9,"m":"SEOB","s":"Heavy","y":1.68,"w":0.4},{"p":9,"m":"SEOB","s":"Heavy","y":1.8,"w":0.52},{"p":9,"m":"SEOB","s":"Heavy","y":1.9,"w":0.54},{"p":9,"m":"SEOB","s":"Heavy","y":2.0,"w":0.4},{"p":9,"m":"SEOB","s":"Heavy","y":2.1,"w":0.2},{"p":9,"m":"SEOB","s":"Heavy","y":2.2,"w":0.07},{"p":9,"m":"SEOB","s":"Heavy","y":2.35,"w":0.02},{"p":9,"m":"SEOB","s":"Heavy","y":2.5,"w":0},
{"p":9,"m":"TPHM","s":"Light","y":0.0,"w":0},{"p":9,"m":"TPHM","s":"Light","y":0.3,"w":-0.02},{"p":9,"m":"TPHM","s":"Light","y":0.6,"w":-0.06},{"p":9,"m":"TPHM","s":"Light","y":0.9,"w":-0.11},{"p":9,"m":"TPHM","s":"Light","y":1.2,"w":-0.18},{"p":9,"m":"TPHM","s":"Light","y":1.4,"w":-0.22},{"p":9,"m":"TPHM","s":"Light","y":1.6,"w":-0.21},{"p":9,"m":"TPHM","s":"Light","y":1.8,"w":-0.17},{"p":9,"m":"TPHM","s":"Light","y":2.0,"w":-0.13},{"p":9,"m":"TPHM","s":"Light","y":2.2,"w":-0.1},{"p":9,"m":"TPHM","s":"Light","y":2.4,"w":-0.07},{"p":9,"m":"TPHM","s":"Light","y":2.6,"w":-0.04},{"p":9,"m":"TPHM","s":"Light","y":2.8,"w":-0.02},{"p":9,"m":"TPHM","s":"Light","y":3.1,"w":0},
{"p":9,"m":"TPHM","s":"Heavy","y":1.0,"w":0},{"p":9,"m":"TPHM","s":"Heavy","y":1.2,"w":0.04},{"p":9,"m":"TPHM","s":"Heavy","y":1.35,"w":0.15},{"p":9,"m":"TPHM","s":"Heavy","y":1.5,"w":0.4},{"p":9,"m":"TPHM","s":"Heavy","y":1.65,"w":0.7},{"p":9,"m":"TPHM","s":"Heavy","y":1.78,"w":0.83},{"p":9,"m":"TPHM","s":"Heavy","y":1.9,"w":0.72},{"p":9,"m":"TPHM","s":"Heavy","y":2.0,"w":0.45},{"p":9,"m":"TPHM","s":"Heavy","y":2.12,"w":0.18},{"p":9,"m":"TPHM","s":"Heavy","y":2.25,"w":0.05},{"p":9,"m":"TPHM","s":"Heavy","y":2.5,"w":0.01},{"p":9,"m":"TPHM","s":"Heavy","y":2.8,"w":0},
{"p":9,"m":"XPHM","s":"Light","y":1.45,"w":0},{"p":9,"m":"XPHM","s":"Light","y":1.7,"w":-0.04},{"p":9,"m":"XPHM","s":"Light","y":1.85,"w":-0.18},{"p":9,"m":"XPHM","s":"Light","y":1.98,"w":-0.5},{"p":9,"m":"XPHM","s":"Light","y":2.1,"w":-0.75},{"p":9,"m":"XPHM","s":"Light","y":2.2,"w":-0.81},{"p":9,"m":"XPHM","s":"Light","y":2.32,"w":-0.65},{"p":9,"m":"XPHM","s":"Light","y":2.45,"w":-0.35},{"p":9,"m":"XPHM","s":"Light","y":2.6,"w":-0.1},{"p":9,"m":"XPHM","s":"Light","y":2.75,"w":-0.02},{"p":9,"m":"XPHM","s":"Light","y":2.9,"w":0},
{"p":9,"m":"XPHM","s":"Heavy","y":1.7,"w":0},{"p":9,"m":"XPHM","s":"Heavy","y":1.9,"w":0.05},{"p":9,"m":"XPHM","s":"Heavy","y":2.05,"w":0.2},{"p":9,"m":"XPHM","s":"Heavy","y":2.2,"w":0.48},{"p":9,"m":"XPHM","s":"Heavy","y":2.35,"w":0.72},{"p":9,"m":"XPHM","s":"Heavy","y":2.45,"w":0.78},{"p":9,"m":"XPHM","s":"Heavy","y":2.55,"w":0.65},{"p":9,"m":"XPHM","s":"Heavy","y":2.68,"w":0.35},{"p":9,"m":"XPHM","s":"Heavy","y":2.8,"w":0.12},{"p":9,"m":"XPHM","s":"Heavy","y":2.9,"w":0.03},{"p":9,"m":"XPHM","s":"Heavy","y":3.0,"w":0},

{"p":10,"m":"SEOB","s":"Light","y":0.1,"w":0},{"p":10,"m":"SEOB","s":"Light","y":0.2,"w":-0.15},{"p":10,"m":"SEOB","s":"Light","y":0.3,"w":-0.45},{"p":10,"m":"SEOB","s":"Light","y":0.4,"w":-0.7},{"p":10,"m":"SEOB","s":"Light","y":0.5,"w":-0.78},{"p":10,"m":"SEOB","s":"Light","y":0.6,"w":-0.65},{"p":10,"m":"SEOB","s":"Light","y":0.7,"w":-0.4},{"p":10,"m":"SEOB","s":"Light","y":0.8,"w":-0.2},{"p":10,"m":"SEOB","s":"Light","y":0.9,"w":-0.08},{"p":10,"m":"SEOB","s":"Light","y":1.1,"w":-0.02},{"p":10,"m":"SEOB","s":"Light","y":1.5,"w":-0.005},{"p":10,"m":"SEOB","s":"Light","y":2.5,"w":-0.005},{"p":10,"m":"SEOB","s":"Light","y":3.1,"w":0},
{"p":10,"m":"SEOB","s":"Heavy","y":0.1,"w":0},{"p":10,"m":"SEOB","s":"Heavy","y":0.2,"w":0.06},{"p":10,"m":"SEOB","s":"Heavy","y":0.4,"w":0.17},{"p":10,"m":"SEOB","s":"Heavy","y":0.6,"w":0.27},{"p":10,"m":"SEOB","s":"Heavy","y":0.8,"w":0.33},{"p":10,"m":"SEOB","s":"Heavy","y":0.95,"w":0.35},{"p":10,"m":"SEOB","s":"Heavy","y":1.1,"w":0.28},{"p":10,"m":"SEOB","s":"Heavy","y":1.3,"w":0.1},{"p":10,"m":"SEOB","s":"Heavy","y":1.5,"w":0.03},{"p":10,"m":"SEOB","s":"Heavy","y":1.8,"w":0.01},{"p":10,"m":"SEOB","s":"Heavy","y":2.1,"w":0.03},{"p":10,"m":"SEOB","s":"Heavy","y":2.3,"w":0.12},{"p":10,"m":"SEOB","s":"Heavy","y":2.5,"w":0.28},{"p":10,"m":"SEOB","s":"Heavy","y":2.65,"w":0.35},{"p":10,"m":"SEOB","s":"Heavy","y":2.8,"w":0.25},{"p":10,"m":"SEOB","s":"Heavy","y":2.95,"w":0.06},{"p":10,"m":"SEOB","s":"Heavy","y":3.1,"w":0},
{"p":10,"m":"TPHM","s":"Light","y":0.05,"w":0},{"p":10,"m":"TPHM","s":"Light","y":0.15,"w":-0.1},{"p":10,"m":"TPHM","s":"Light","y":0.25,"w":-0.35},{"p":10,"m":"TPHM","s":"Light","y":0.35,"w":-0.62},{"p":10,"m":"TPHM","s":"Light","y":0.45,"w":-0.78},{"p":10,"m":"TPHM","s":"Light","y":0.52,"w":-0.81},{"p":10,"m":"TPHM","s":"Light","y":0.62,"w":-0.7},{"p":10,"m":"TPHM","s":"Light","y":0.72,"w":-0.5},{"p":10,"m":"TPHM","s":"Light","y":0.82,"w":-0.3},{"p":10,"m":"TPHM","s":"Light","y":0.92,"w":-0.15},{"p":10,"m":"TPHM","s":"Light","y":1.05,"w":-0.05},{"p":10,"m":"TPHM","s":"Light","y":1.3,"w":-0.01},{"p":10,"m":"TPHM","s":"Light","y":2.0,"w":-0.005},{"p":10,"m":"TPHM","s":"Light","y":3.05,"w":0},
{"p":10,"m":"TPHM","s":"Heavy","y":0.05,"w":0},{"p":10,"m":"TPHM","s":"Heavy","y":0.2,"w":0.12},{"p":10,"m":"TPHM","s":"Heavy","y":0.4,"w":0.3},{"p":10,"m":"TPHM","s":"Heavy","y":0.6,"w":0.5},{"p":10,"m":"TPHM","s":"Heavy","y":0.8,"w":0.62},{"p":10,"m":"TPHM","s":"Heavy","y":0.9,"w":0.64},{"p":10,"m":"TPHM","s":"Heavy","y":1.05,"w":0.55},{"p":10,"m":"TPHM","s":"Heavy","y":1.2,"w":0.35},{"p":10,"m":"TPHM","s":"Heavy","y":1.4,"w":0.12},{"p":10,"m":"TPHM","s":"Heavy","y":1.6,"w":0.03},{"p":10,"m":"TPHM","s":"Heavy","y":1.9,"w":0.01},{"p":10,"m":"TPHM","s":"Heavy","y":2.2,"w":0.05},{"p":10,"m":"TPHM","s":"Heavy","y":2.4,"w":0.18},{"p":10,"m":"TPHM","s":"Heavy","y":2.6,"w":0.32},{"p":10,"m":"TPHM","s":"Heavy","y":2.72,"w":0.35},{"p":10,"m":"TPHM","s":"Heavy","y":2.85,"w":0.25},{"p":10,"m":"TPHM","s":"Heavy","y":3.0,"w":0.06},{"p":10,"m":"TPHM","s":"Heavy","y":3.1,"w":0},
{"p":10,"m":"XPHM","s":"Light","y":0.15,"w":0},{"p":10,"m":"XPHM","s":"Light","y":0.25,"w":-0.05},{"p":10,"m":"XPHM","s":"Light","y":0.4,"w":-0.2},{"p":10,"m":"XPHM","s":"Light","y":0.6,"w":-0.42},{"p":10,"m":"XPHM","s":"Light","y":0.8,"w":-0.53},{"p":10,"m":"XPHM","s":"Light","y":0.95,"w":-0.52},{"p":10,"m":"XPHM","s":"Light","y":1.1,"w":-0.38},{"p":10,"m":"XPHM","s":"Light","y":1.3,"w":-0.18},{"p":10,"m":"XPHM","s":"Light","y":1.5,"w":-0.08},{"p":10,"m":"XPHM","s":"Light","y":1.7,"w":-0.12},{"p":10,"m":"XPHM","s":"Light","y":1.9,"w":-0.35},{"p":10,"m":"XPHM","s":"Light","y":2.1,"w":-0.65},{"p":10,"m":"XPHM","s":"Light","y":2.3,"w":-0.78},{"p":10,"m":"XPHM","s":"Light","y":2.45,"w":-0.7},{"p":10,"m":"XPHM","s":"Light","y":2.6,"w":-0.4},{"p":10,"m":"XPHM","s":"Light","y":2.75,"w":-0.12},{"p":10,"m":"XPHM","s":"Light","y":2.9,"w":0},
{"p":10,"m":"XPHM","s":"Heavy","y":0.2,"w":0},{"p":10,"m":"XPHM","s":"Heavy","y":0.3,"w":0.06},{"p":10,"m":"XPHM","s":"Heavy","y":0.5,"w":0.25},{"p":10,"m":"XPHM","s":"Heavy","y":0.7,"w":0.55},{"p":10,"m":"XPHM","s":"Heavy","y":0.9,"w":0.78},{"p":10,"m":"XPHM","s":"Heavy","y":1.0,"w":0.81},{"p":10,"m":"XPHM","s":"Heavy","y":1.15,"w":0.7},{"p":10,"m":"XPHM","s":"Heavy","y":1.3,"w":0.5},{"p":10,"m":"XPHM","s":"Heavy","y":1.5,"w":0.28},{"p":10,"m":"XPHM","s":"Heavy","y":1.7,"w":0.15},{"p":10,"m":"XPHM","s":"Heavy","y":1.9,"w":0.15},{"p":10,"m":"XPHM","s":"Heavy","y":2.1,"w":0.22},{"p":10,"m":"XPHM","s":"Heavy","y":2.3,"w":0.28},{"p":10,"m":"XPHM","s":"Heavy","y":2.45,"w":0.3},{"p":10,"m":"XPHM","s":"Heavy","y":2.6,"w":0.2},{"p":10,"m":"XPHM","s":"Heavy","y":2.75,"w":0.06},{"p":10,"m":"XPHM","s":"Heavy","y":2.9,"w":0}
]},
"concat":[
{"width":133,"height":125,"layer":[
 {"transform":[{"filter":"datum.p==1 && datum.m=='SEOB'"}],"mark":{"type":"area","orient":"horizontal","stroke":"#333","strokeWidth":0.7},"encoding":{"y":{"field":"y","type":"quantitative","scale":{"domain":[-0.286,0.289],"nice":false,"zero":false},"axis":{"title":"Δᵣₑₗℳcᵈᵉᵗ","values":[-0.2,-0.1,0,0.1,0.2],"tickCount":30,"format":".1f","labelOverlap":false}},"x":{"field":"w","type":"quantitative","stack":null,"scale":{"domain":[-1,5],"nice":false,"zero":false},"axis":null},"fill":{"field":"m","type":"nominal","scale":{"domain":["SEOB","TPHM","XPHM"],"range":["#1f77b4","#2ca02c","#d62728"]},"legend":null},"fillOpacity":{"field":"s","type":"ordinal","scale":{"domain":["Light","Heavy"],"range":[1,0.5]},"legend":null}}},
 {"transform":[{"filter":"datum.p==1 && datum.m=='TPHM'"}],"mark":{"type":"area","orient":"horizontal","stroke":"#333","strokeWidth":0.7},"encoding":{"y":{"field":"y","type":"quantitative"},"x":{"field":"w","type":"quantitative","stack":null,"scale":{"domain":[-3,3],"nice":false,"zero":false},"axis":null},"fill":{"field":"m","type":"nominal","legend":null},"fillOpacity":{"field":"s","type":"ordinal","legend":null}}},
 {"transform":[{"filter":"datum.p==1 && datum.m=='XPHM'"}],"mark":{"type":"area","orient":"horizontal","stroke":"#333","strokeWidth":0.7},"encoding":{"y":{"field":"y","type":"quantitative"},"x":{"field":"w","type":"quantitative","stack":null,"scale":{"domain":[-5,1],"nice":false,"zero":false},"axis":null},"fill":{"field":"m","type":"nominal","legend":null},"fillOpacity":{"field":"s","type":"ordinal","legend":null}}},
 {"data":{"values":[{"y":0.0}]},"mark":{"type":"rule","strokeDash":[3,2],"color":"#000","strokeWidth":0.8},"encoding":{"y":{"field":"y","type":"quantitative"}}},
 {"data":{"values":[{"m":"SEOB"},{"m":"TPHM"},{"m":"XPHM"}]},"mark":{"type":"point","opacity":0},"encoding":{"x":{"field":"m","type":"nominal","scale":{"type":"point","padding":0.5,"domain":["SEOB","TPHM","XPHM"]},"axis":{"title":null,"labelAngle":0}}}},
 {"data":{"values":[{"s":"Light"},{"s":"Heavy"}]},"mark":{"type":"square","opacity":0},"encoding":{"color":{"field":"s","type":"nominal","scale":{"domain":["Light","Heavy"],"range":["#555555","#aaaaaa"]},"legend":{"orient":"top-right","title":null}}}}
],"resolve":{"scale":{"x":"independent"}}},
{"width":133,"height":125,"layer":[
 {"transform":[{"filter":"datum.p==2 && datum.m=='SEOB'"}],"mark":{"type":"area","orient":"horizontal","stroke":"#333","strokeWidth":0.7},"encoding":{"y":{"field":"y","type":"quantitative","scale":{"domain":[-0.225,0.214],"nice":false,"zero":false},"axis":{"title":"Δᵣₑₗℳᵈᵉᵗ","values":[-0.2,-0.15,-0.1,-0.05,0,0.05,0.1,0.15,0.2],"tickCount":30,"format":".2f","labelOverlap":false}},"x":{"field":"w","type":"quantitative","stack":null,"scale":{"domain":[-1,5],"nice":false,"zero":false},"axis":null},"fill":{"field":"m","type":"nominal","scale":{"domain":["SEOB","TPHM","XPHM"],"range":["#1f77b4","#2ca02c","#d62728"]},"legend":null},"fillOpacity":{"field":"s","type":"ordinal","scale":{"domain":["Light","Heavy"],"range":[1,0.5]},"legend":null}}},
 {"transform":[{"filter":"datum.p==2 && datum.m=='TPHM'"}],"mark":{"type":"area","orient":"horizontal","stroke":"#333","strokeWidth":0.7},"encoding":{"y":{"field":"y","type":"quantitative"},"x":{"field":"w","type":"quantitative","stack":null,"scale":{"domain":[-3,3],"nice":false,"zero":false},"axis":null},"fill":{"field":"m","type":"nominal","legend":null},"fillOpacity":{"field":"s","type":"ordinal","legend":null}}},
 {"transform":[{"filter":"datum.p==2 && datum.m=='XPHM'"}],"mark":{"type":"area","orient":"horizontal","stroke":"#333","strokeWidth":0.7},"encoding":{"y":{"field":"y","type":"quantitative"},"x":{"field":"w","type":"quantitative","stack":null,"scale":{"domain":[-5,1],"nice":false,"zero":false},"axis":null},"fill":{"field":"m","type":"nominal","legend":null},"fillOpacity":{"field":"s","type":"ordinal","legend":null}}},
 {"data":{"values":[{"y":0.0}]},"mark":{"type":"rule","strokeDash":[3,2],"color":"#000","strokeWidth":0.8},"encoding":{"y":{"field":"y","type":"quantitative"}}},
 {"data":{"values":[{"m":"SEOB"},{"m":"TPHM"},{"m":"XPHM"}]},"mark":{"type":"point","opacity":0},"encoding":{"x":{"field":"m","type":"nominal","scale":{"type":"point","padding":0.5,"domain":["SEOB","TPHM","XPHM"]},"axis":{"title":null,"labelAngle":0}}}},
 {"data":{"values":[{"s":"Light"},{"s":"Heavy"}]},"mark":{"type":"square","opacity":0},"encoding":{"color":{"field":"s","type":"nominal","scale":{"domain":["Light","Heavy"],"range":["#555555","#aaaaaa"]},"legend":{"orient":"top-right","title":null}}}}
],"resolve":{"scale":{"x":"independent"}}},
{"width":133,"height":125,"layer":[
 {"transform":[{"filter":"datum.p==3 && datum.m=='SEOB'"}],"mark":{"type":"area","orient":"horizontal","stroke":"#333","strokeWidth":0.7},"encoding":{"y":{"field":"y","type":"quantitative","scale":{"domain":[0.163,1.037],"nice":false,"zero":false},"axis":{"title":"q","values":[0.2,0.3,0.4,0.5,0.6,0.7,0.8,0.9,1.0],"tickCount":30,"format":".1f","labelOverlap":false}},"x":{"field":"w","type":"quantitative","stack":null,"scale":{"domain":[-1,5],"nice":false,"zero":false},"axis":null},"fill":{"field":"m","type":"nominal","scale":{"domain":["SEOB","TPHM","XPHM"],"range":["#1f77b4","#2ca02c","#d62728"]},"legend":null},"fillOpacity":{"field":"s","type":"ordinal","scale":{"domain":["Light","Heavy"],"range":[1,0.5]},"legend":null}}},
 {"transform":[{"filter":"datum.p==3 && datum.m=='TPHM'"}],"mark":{"type":"area","orient":"horizontal","stroke":"#333","strokeWidth":0.7},"encoding":{"y":{"field":"y","type":"quantitative"},"x":{"field":"w","type":"quantitative","stack":null,"scale":{"domain":[-3,3],"nice":false,"zero":false},"axis":null},"fill":{"field":"m","type":"nominal","legend":null},"fillOpacity":{"field":"s","type":"ordinal","legend":null}}},
 {"transform":[{"filter":"datum.p==3 && datum.m=='XPHM'"}],"mark":{"type":"area","orient":"horizontal","stroke":"#333","strokeWidth":0.7},"encoding":{"y":{"field":"y","type":"quantitative"},"x":{"field":"w","type":"quantitative","stack":null,"scale":{"domain":[-5,1],"nice":false,"zero":false},"axis":null},"fill":{"field":"m","type":"nominal","legend":null},"fillOpacity":{"field":"s","type":"ordinal","legend":null}}},
 {"data":{"values":[{"y":0.485}]},"mark":{"type":"rule","strokeDash":[3,2],"color":"#000","strokeWidth":0.8},"encoding":{"y":{"field":"y","type":"quantitative"}}},
 {"data":{"values":[{"m":"SEOB"},{"m":"TPHM"},{"m":"XPHM"}]},"mark":{"type":"point","opacity":0},"encoding":{"x":{"field":"m","type":"nominal","scale":{"type":"point","padding":0.5,"domain":["SEOB","TPHM","XPHM"]},"axis":{"title":null,"labelAngle":0}}}},
 {"data":{"values":[{"s":"Light"},{"s":"Heavy"}]},"mark":{"type":"square","opacity":0},"encoding":{"color":{"field":"s","type":"nominal","scale":{"domain":["Light","Heavy"],"range":["#555555","#aaaaaa"]},"legend":{"orient":"top-right","title":null}}}}
],"resolve":{"scale":{"x":"independent"}}},
{"width":133,"height":125,"layer":[
 {"transform":[{"filter":"datum.p==4 && datum.m=='SEOB'"}],"mark":{"type":"area","orient":"horizontal","stroke":"#333","strokeWidth":0.7},"encoding":{"y":{"field":"y","type":"quantitative","scale":{"domain":[-0.902,0.248],"nice":false,"zero":false},"axis":{"title":"χeff","values":[-0.8,-0.6,-0.4,-0.2,0,0.2],"tickCount":30,"format":".1f","labelOverlap":false}},"x":{"field":"w","type":"quantitative","stack":null,"scale":{"domain":[-1,5],"nice":false,"zero":false},"axis":null},"fill":{"field":"m","type":"nominal","scale":{"domain":["SEOB","TPHM","XPHM"],"range":["#1f77b4","#2ca02c","#d62728"]},"legend":null},"fillOpacity":{"field":"s","type":"ordinal","scale":{"domain":["Light","Heavy"],"range":[1,0.5]},"legend":null}}},
 {"transform":[{"filter":"datum.p==4 && datum.m=='TPHM'"}],"mark":{"type":"area","orient":"horizontal","stroke":"#333","strokeWidth":0.7},"encoding":{"y":{"field":"y","type":"quantitative"},"x":{"field":"w","type":"quantitative","stack":null,"scale":{"domain":[-3,3],"nice":false,"zero":false},"axis":null},"fill":{"field":"m","type":"nominal","legend":null},"fillOpacity":{"field":"s","type":"ordinal","legend":null}}},
 {"transform":[{"filter":"datum.p==4 && datum.m=='XPHM'"}],"mark":{"type":"area","orient":"horizontal","stroke":"#333","strokeWidth":0.7},"encoding":{"y":{"field":"y","type":"quantitative"},"x":{"field":"w","type":"quantitative","stack":null,"scale":{"domain":[-5,1],"nice":false,"zero":false},"axis":null},"fill":{"field":"m","type":"nominal","legend":null},"fillOpacity":{"field":"s","type":"ordinal","legend":null}}},
 {"data":{"values":[{"y":-0.18}]},"mark":{"type":"rule","strokeDash":[3,2],"color":"#000","strokeWidth":0.8},"encoding":{"y":{"field":"y","type":"quantitative"}}},
 {"data":{"values":[{"m":"SEOB"},{"m":"TPHM"},{"m":"XPHM"}]},"mark":{"type":"point","opacity":0},"encoding":{"x":{"field":"m","type":"nominal","scale":{"type":"point","padding":0.5,"domain":["SEOB","TPHM","XPHM"]},"axis":{"title":null,"labelAngle":0}}}},
 {"data":{"values":[{"s":"Light"},{"s":"Heavy"}]},"mark":{"type":"square","opacity":0},"encoding":{"color":{"field":"s","type":"nominal","scale":{"domain":["Light","Heavy"],"range":["#555555","#aaaaaa"]},"legend":{"orient":"top-right","title":null}}}}
],"resolve":{"scale":{"x":"independent"}}},
{"width":133,"height":125,"layer":[
 {"transform":[{"filter":"datum.p==5 && datum.m=='SEOB'"}],"mark":{"type":"area","orient":"horizontal","stroke":"#333","strokeWidth":0.7},"encoding":{"y":{"field":"y","type":"quantitative","scale":{"domain":[-0.84,0.962],"nice":false,"zero":false},"axis":{"title":"ΔᵣₑₗdL","values":[-0.75,-0.5,-0.25,0,0.25,0.5,0.75],"tickCount":30,"format":".2f","labelOverlap":false}},"x":{"field":"w","type":"quantitative","stack":null,"scale":{"domain":[-1,5],"nice":false,"zero":false},"axis":null},"fill":{"field":"m","type":"nominal","scale":{"domain":["SEOB","TPHM","XPHM"],"range":["#1f77b4","#2ca02c","#d62728"]},"legend":null},"fillOpacity":{"field":"s","type":"ordinal","scale":{"domain":["Light","Heavy"],"range":[1,0.5]},"legend":null}}},
 {"transform":[{"filter":"datum.p==5 && datum.m=='TPHM'"}],"mark":{"type":"area","orient":"horizontal","stroke":"#333","strokeWidth":0.7},"encoding":{"y":{"field":"y","type":"quantitative"},"x":{"field":"w","type":"quantitative","stack":null,"scale":{"domain":[-3,3],"nice":false,"zero":false},"axis":null},"fill":{"field":"m","type":"nominal","legend":null},"fillOpacity":{"field":"s","type":"ordinal","legend":null}}},
 {"transform":[{"filter":"datum.p==5 && datum.m=='XPHM'"}],"mark":{"type":"area","orient":"horizontal","stroke":"#333","strokeWidth":0.7},"encoding":{"y":{"field":"y","type":"quantitative"},"x":{"field":"w","type":"quantitative","stack":null,"scale":{"domain":[-5,1],"nice":false,"zero":false},"axis":null},"fill":{"field":"m","type":"nominal","legend":null},"fillOpacity":{"field":"s","type":"ordinal","legend":null}}},
 {"data":{"values":[{"y":0.0}]},"mark":{"type":"rule","strokeDash":[3,2],"color":"#000","strokeWidth":0.8},"encoding":{"y":{"field":"y","type":"quantitative"}}},
 {"data":{"values":[{"m":"SEOB"},{"m":"TPHM"},{"m":"XPHM"}]},"mark":{"type":"point","opacity":0},"encoding":{"x":{"field":"m","type":"nominal","scale":{"type":"point","padding":0.5,"domain":["SEOB","TPHM","XPHM"]},"axis":{"title":null,"labelAngle":0}}}},
 {"data":{"values":[{"s":"Light"},{"s":"Heavy"}]},"mark":{"type":"square","opacity":0},"encoding":{"color":{"field":"s","type":"nominal","scale":{"domain":["Light","Heavy"],"range":["#555555","#aaaaaa"]},"legend":{"orient":"top-right","title":null}}}}
],"resolve":{"scale":{"x":"independent"}}},
{"width":133,"height":125,"layer":[
 {"transform":[{"filter":"datum.p==6 && datum.m=='SEOB'"}],"mark":{"type":"area","orient":"horizontal","stroke":"#333","strokeWidth":0.7},"encoding":{"y":{"field":"y","type":"quantitative","scale":{"domain":[-0.051,1.026],"nice":false,"zero":false},"axis":{"title":"χ₁","values":[0,0.2,0.4,0.6,0.8,1.0],"tickCount":30,"format":".1f","labelOverlap":false}},"x":{"field":"w","type":"quantitative","stack":null,"scale":{"domain":[-1,5],"nice":false,"zero":false},"axis":null},"fill":{"field":"m","type":"nominal","scale":{"domain":["SEOB","TPHM","XPHM"],"range":["#1f77b4","#2ca02c","#d62728"]},"legend":null},"fillOpacity":{"field":"s","type":"ordinal","scale":{"domain":["Light","Heavy"],"range":[1,0.5]},"legend":null}}},
 {"transform":[{"filter":"datum.p==6 && datum.m=='TPHM'"}],"mark":{"type":"area","orient":"horizontal","stroke":"#333","strokeWidth":0.7},"encoding":{"y":{"field":"y","type":"quantitative"},"x":{"field":"w","type":"quantitative","stack":null,"scale":{"domain":[-3,3],"nice":false,"zero":false},"axis":null},"fill":{"field":"m","type":"nominal","legend":null},"fillOpacity":{"field":"s","type":"ordinal","legend":null}}},
 {"transform":[{"filter":"datum.p==6 && datum.m=='XPHM'"}],"mark":{"type":"area","orient":"horizontal","stroke":"#333","strokeWidth":0.7},"encoding":{"y":{"field":"y","type":"quantitative"},"x":{"field":"w","type":"quantitative","stack":null,"scale":{"domain":[-5,1],"nice":false,"zero":false},"axis":null},"fill":{"field":"m","type":"nominal","legend":null},"fillOpacity":{"field":"s","type":"ordinal","legend":null}}},
 {"data":{"values":[{"y":0.84}]},"mark":{"type":"rule","strokeDash":[3,2],"color":"#000","strokeWidth":0.8},"encoding":{"y":{"field":"y","type":"quantitative"}}},
 {"data":{"values":[{"m":"SEOB"},{"m":"TPHM"},{"m":"XPHM"}]},"mark":{"type":"point","opacity":0},"encoding":{"x":{"field":"m","type":"nominal","scale":{"type":"point","padding":0.5,"domain":["SEOB","TPHM","XPHM"]},"axis":{"title":null,"labelAngle":0}}}},
 {"data":{"values":[{"s":"Light"},{"s":"Heavy"}]},"mark":{"type":"square","opacity":0},"encoding":{"color":{"field":"s","type":"nominal","scale":{"domain":["Light","Heavy"],"range":["#555555","#aaaaaa"]},"legend":{"orient":"bottom-right","title":null}}}}
],"resolve":{"scale":{"x":"independent"}}},
{"width":133,"height":125,"layer":[
 {"transform":[{"filter":"datum.p==7 && datum.m=='SEOB'"}],"mark":{"type":"area","orient":"horizontal","stroke":"#333","strokeWidth":0.7},"encoding":{"y":{"field":"y","type":"quantitative","scale":{"domain":[0.082,3.24],"nice":false,"zero":false},"axis":{"title":"θ₁","values":[0.5,1.0,1.5,2.0,2.5,3.0],"tickCount":30,"format":".1f","labelOverlap":false}},"x":{"field":"w","type":"quantitative","stack":null,"scale":{"domain":[-1,5],"nice":false,"zero":false},"axis":null},"fill":{"field":"m","type":"nominal","scale":{"domain":["SEOB","TPHM","XPHM"],"range":["#1f77b4","#2ca02c","#d62728"]},"legend":null},"fillOpacity":{"field":"s","type":"ordinal","scale":{"domain":["Light","Heavy"],"range":[1,0.5]},"legend":null}}},
 {"transform":[{"filter":"datum.p==7 && datum.m=='TPHM'"}],"mark":{"type":"area","orient":"horizontal","stroke":"#333","strokeWidth":0.7},"encoding":{"y":{"field":"y","type":"quantitative"},"x":{"field":"w","type":"quantitative","stack":null,"scale":{"domain":[-3,3],"nice":false,"zero":false},"axis":null},"fill":{"field":"m","type":"nominal","legend":null},"fillOpacity":{"field":"s","type":"ordinal","legend":null}}},
 {"transform":[{"filter":"datum.p==7 && datum.m=='XPHM'"}],"mark":{"type":"area","orient":"horizontal","stroke":"#333","strokeWidth":0.7},"encoding":{"y":{"field":"y","type":"quantitative"},"x":{"field":"w","type":"quantitative","stack":null,"scale":{"domain":[-5,1],"nice":false,"zero":false},"axis":null},"fill":{"field":"m","type":"nominal","legend":null},"fillOpacity":{"field":"s","type":"ordinal","legend":null}}},
 {"data":{"values":[{"y":1.7}]},"mark":{"type":"rule","strokeDash":[3,2],"color":"#000","strokeWidth":0.8},"encoding":{"y":{"field":"y","type":"quantitative"}}},
 {"data":{"values":[{"m":"SEOB"},{"m":"TPHM"},{"m":"XPHM"}]},"mark":{"type":"point","opacity":0},"encoding":{"x":{"field":"m","type":"nominal","scale":{"type":"point","padding":0.5,"domain":["SEOB","TPHM","XPHM"]},"axis":{"title":null,"labelAngle":0}}}},
 {"data":{"values":[{"s":"Light"},{"s":"Heavy"}]},"mark":{"type":"square","opacity":0},"encoding":{"color":{"field":"s","type":"nominal","scale":{"domain":["Light","Heavy"],"range":["#555555","#aaaaaa"]},"legend":{"orient":"top-right","title":null}}}}
],"resolve":{"scale":{"x":"independent"}}},
{"width":133,"height":125,"layer":[
 {"transform":[{"filter":"datum.p==8 && datum.m=='SEOB'"}],"mark":{"type":"area","orient":"horizontal","stroke":"#333","strokeWidth":0.7},"encoding":{"y":{"field":"y","type":"quantitative","scale":{"domain":[-0.05,1.025],"nice":false,"zero":false},"axis":{"title":"χ₂","values":[0,0.2,0.4,0.6,0.8,1.0],"tickCount":30,"format":".1f","labelOverlap":false}},"x":{"field":"w","type":"quantitative","stack":null,"scale":{"domain":[-1,5],"nice":false,"zero":false},"axis":null},"fill":{"field":"m","type":"nominal","scale":{"domain":["SEOB","TPHM","XPHM"],"range":["#1f77b4","#2ca02c","#d62728"]},"legend":null},"fillOpacity":{"field":"s","type":"ordinal","scale":{"domain":["Light","Heavy"],"range":[1,0.5]},"legend":null}}},
 {"transform":[{"filter":"datum.p==8 && datum.m=='TPHM'"}],"mark":{"type":"area","orient":"horizontal","stroke":"#333","strokeWidth":0.7},"encoding":{"y":{"field":"y","type":"quantitative"},"x":{"field":"w","type":"quantitative","stack":null,"scale":{"domain":[-3,3],"nice":false,"zero":false},"axis":null},"fill":{"field":"m","type":"nominal","legend":null},"fillOpacity":{"field":"s","type":"ordinal","legend":null}}},
 {"transform":[{"filter":"datum.p==8 && datum.m=='XPHM'"}],"mark":{"type":"area","orient":"horizontal","stroke":"#333","strokeWidth":0.7},"encoding":{"y":{"field":"y","type":"quantitative"},"x":{"field":"w","type":"quantitative","stack":null,"scale":{"domain":[-5,1],"nice":false,"zero":false},"axis":null},"fill":{"field":"m","type":"nominal","legend":null},"fillOpacity":{"field":"s","type":"ordinal","legend":null}}},
 {"data":{"values":[{"y":0.51}]},"mark":{"type":"rule","strokeDash":[3,2],"color":"#000","strokeWidth":0.8},"encoding":{"y":{"field":"y","type":"quantitative"}}},
 {"data":{"values":[{"m":"SEOB"},{"m":"TPHM"},{"m":"XPHM"}]},"mark":{"type":"point","opacity":0},"encoding":{"x":{"field":"m","type":"nominal","scale":{"type":"point","padding":0.5,"domain":["SEOB","TPHM","XPHM"]},"axis":{"title":null,"labelAngle":0}}}},
 {"data":{"values":[{"s":"Light"},{"s":"Heavy"}]},"mark":{"type":"square","opacity":0},"encoding":{"color":{"field":"s","type":"nominal","scale":{"domain":["Light","Heavy"],"range":["#555555","#aaaaaa"]},"legend":{"orient":"bottom-right","title":null}}}}
],"resolve":{"scale":{"x":"independent"}}},
{"width":133,"height":125,"layer":[
 {"transform":[{"filter":"datum.p==9 && datum.m=='SEOB'"}],"mark":{"type":"area","orient":"horizontal","stroke":"#333","strokeWidth":0.7},"encoding":{"y":{"field":"y","type":"quantitative","scale":{"domain":[-0.14,3.24],"nice":false,"zero":false},"axis":{"title":"θ₂","values":[0,0.5,1.0,1.5,2.0,2.5,3.0],"tickCount":30,"format":".1f","labelOverlap":false}},"x":{"field":"w","type":"quantitative","stack":null,"scale":{"domain":[-1,5],"nice":false,"zero":false},"axis":null},"fill":{"field":"m","type":"nominal","scale":{"domain":["SEOB","TPHM","XPHM"],"range":["#1f77b4","#2ca02c","#d62728"]},"legend":null},"fillOpacity":{"field":"s","type":"ordinal","scale":{"domain":["Light","Heavy"],"range":[1,0.5]},"legend":null}}},
 {"transform":[{"filter":"datum.p==9 && datum.m=='TPHM'"}],"mark":{"type":"area","orient":"horizontal","stroke":"#333","strokeWidth":0.7},"encoding":{"y":{"field":"y","type":"quantitative"},"x":{"field":"w","type":"quantitative","stack":null,"scale":{"domain":[-3,3],"nice":false,"zero":false},"axis":null},"fill":{"field":"m","type":"nominal","legend":null},"fillOpacity":{"field":"s","type":"ordinal","legend":null}}},
 {"transform":[{"filter":"datum.p==9 && datum.m=='XPHM'"}],"mark":{"type":"area","orient":"horizontal","stroke":"#333","strokeWidth":0.7},"encoding":{"y":{"field":"y","type":"quantitative"},"x":{"field":"w","type":"quantitative","stack":null,"scale":{"domain":[-5,1],"nice":false,"zero":false},"axis":null},"fill":{"field":"m","type":"nominal","legend":null},"fillOpacity":{"field":"s","type":"ordinal","legend":null}}},
 {"data":{"values":[{"y":2.23}]},"mark":{"type":"rule","strokeDash":[3,2],"color":"#000","strokeWidth":0.8},"encoding":{"y":{"field":"y","type":"quantitative"}}},
 {"data":{"values":[{"m":"SEOB"},{"m":"TPHM"},{"m":"XPHM"}]},"mark":{"type":"point","opacity":0},"encoding":{"x":{"field":"m","type":"nominal","scale":{"type":"point","padding":0.5,"domain":["SEOB","TPHM","XPHM"]},"axis":{"title":null,"labelAngle":0}}}},
 {"data":{"values":[{"s":"Light"},{"s":"Heavy"}]},"mark":{"type":"square","opacity":0},"encoding":{"color":{"field":"s","type":"nominal","scale":{"domain":["Light","Heavy"],"range":["#555555","#aaaaaa"]},"legend":{"orient":"top-right","title":null}}}}
],"resolve":{"scale":{"x":"independent"}}},
{"width":133,"height":125,"layer":[
 {"transform":[{"filter":"datum.p==10 && datum.m=='SEOB'"}],"mark":{"type":"area","orient":"horizontal","stroke":"#333","strokeWidth":0.7},"encoding":{"y":{"field":"y","type":"quantitative","scale":{"domain":[-0.1,3.24],"nice":false,"zero":false},"axis":{"title":"θJN","values":[0,0.5,1.0,1.5,2.0,2.5,3.0],"tickCount":30,"format":".1f","labelOverlap":false}},"x":{"field":"w","type":"quantitative","stack":null,"scale":{"domain":[-1,5],"nice":false,"zero":false},"axis":null},"fill":{"field":"m","type":"nominal","scale":{"domain":["SEOB","TPHM","XPHM"],"range":["#1f77b4","#2ca02c","#d62728"]},"legend":null},"fillOpacity":{"field":"s","type":"ordinal","scale":{"domain":["Light","Heavy"],"range":[1,0.5]},"legend":null}}},
 {"transform":[{"filter":"datum.p==10 && datum.m=='TPHM'"}],"mark":{"type":"area","orient":"horizontal","stroke":"#333","strokeWidth":0.7},"encoding":{"y":{"field":"y","type":"quantitative"},"x":{"field":"w","type":"quantitative","stack":null,"scale":{"domain":[-3,3],"nice":false,"zero":false},"axis":null},"fill":{"field":"m","type":"nominal","legend":null},"fillOpacity":{"field":"s","type":"ordinal","legend":null}}},
 {"transform":[{"filter":"datum.p==10 && datum.m=='XPHM'"}],"mark":{"type":"area","orient":"horizontal","stroke":"#333","strokeWidth":0.7},"encoding":{"y":{"field":"y","type":"quantitative"},"x":{"field":"w","type":"quantitative","stack":null,"scale":{"domain":[-5,1],"nice":false,"zero":false},"axis":null},"fill":{"field":"m","type":"nominal","legend":null},"fillOpacity":{"field":"s","type":"ordinal","legend":null}}},
 {"data":{"values":[{"y":0.5}]},"mark":{"type":"rule","strokeDash":[3,2],"color":"#000","strokeWidth":0.8},"encoding":{"y":{"field":"y","type":"quantitative"}}},
 {"data":{"values":[{"m":"SEOB"},{"m":"TPHM"},{"m":"XPHM"}]},"mark":{"type":"point","opacity":0},"encoding":{"x":{"field":"m","type":"nominal","scale":{"type":"point","padding":0.5,"domain":["SEOB","TPHM","XPHM"]},"axis":{"title":null,"labelAngle":0}}}},
 {"data":{"values":[{"s":"Light"},{"s":"Heavy"}]},"mark":{"type":"square","opacity":0},"encoding":{"color":{"field":"s","type":"nominal","scale":{"domain":["Light","Heavy"],"range":["#555555","#aaaaaa"]},"legend":{"orient":"top-right","title":null}}}}
],"resolve":{"scale":{"x":"independent"}}}
],
"resolve":{"scale":{"fillOpacity":"independent","color":"independent"},"legend":{"color":"independent"}},
"config":{
 "font":"Liberation Serif, DejaVu Serif, serif",
 "view":{"stroke":"#666","strokeWidth":0.8},
 "axis":{"labelFontSize":6.5,"titleFontSize":10,"titleFontWeight":"normal","grid":false,"domain":false,"tickSize":2.5,"tickColor":"#000","tickWidth":0.6,"labelColor":"#222","titleColor":"#111","labelPadding":1,"labelOverlap":false,"labelFlush":false,"labelBound":false},
 "axisY":{"minExtent":17,"maxExtent":17,"titlePadding":0},
 "axisX":{"labelPadding":2,"labelFontSize":6},
 "legend":{"padding":2,"offset":3,"strokeColor":"#ccc","fillColor":"#fff","cornerRadius":2,"labelFontSize":5,"symbolType":"M-1,-0.5H1V0.5H-1Z","symbolSize":64,"symbolOpacity":1,"symbolStrokeColor":"#333","symbolStrokeWidth":0.4,"rowPadding":0,"labelOffset":3}
}
}
